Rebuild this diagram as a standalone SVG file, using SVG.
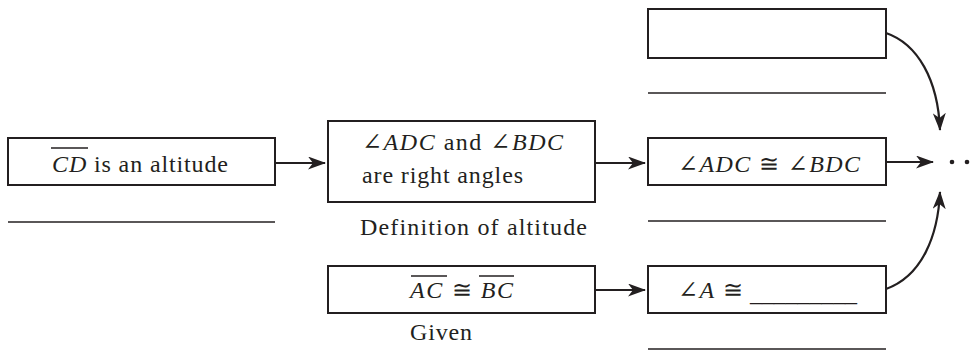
<svg xmlns="http://www.w3.org/2000/svg" width="976" height="351" viewBox="0 0 976 351">
<style>
.box{fill:#fff;stroke:#231f20;stroke-width:2}
.ln{stroke:#231f20;stroke-width:1.5;fill:none}
.conn{stroke:#231f20;stroke-width:2.2;fill:none}
.i{font-style:italic}
</style>
<defs>
<marker id="ah" viewBox="0 0 18 13" refX="17" refY="6.5" markerWidth="18" markerHeight="13" markerUnits="userSpaceOnUse" orient="auto">
<path d="M0,0 L18,6.5 L0,13 L5,6.5 Z" fill="#231f20"/>
</marker>
</defs>
<g id="connectors">
<line class="conn" x1="275" y1="163" x2="325" y2="163" marker-end="url(#ah)"/>
<line class="conn" x1="595" y1="163" x2="645" y2="163" marker-end="url(#ah)"/>
<line class="conn" x1="886" y1="162" x2="933" y2="162" marker-end="url(#ah)"/>
<line class="conn" x1="595" y1="290" x2="645" y2="290" marker-end="url(#ah)"/>
<path class="conn" d="M886,33 C918,44 938,80 940,130" marker-end="url(#ah)"/>
<path class="conn" d="M886,289 C922,276 938,236 940,192" marker-end="url(#ah)"/>
</g>
<g font-family="Liberation Serif, DejaVu Serif, serif" font-size="24" fill="#231f20">
<g id="n1">
<rect class="box" x="8" y="138" width="267" height="47"/>
<line class="ln" x1="51" y1="148" x2="88" y2="148"/>
<text x="52" y="172" textLength="176"><tspan class="i">CD</tspan> is an altitude</text>
<line class="ln" x1="8" y1="222" x2="275" y2="222"/>
</g>
<g id="n2">
<rect class="box" x="328" y="121" width="267" height="81"/>
<text x="362" y="150" textLength="201">∠<tspan class="i">ADC</tspan> and ∠<tspan class="i">BDC</tspan></text>
<text x="362" y="183" textLength="161">are right angles</text>
<text x="360" y="235" textLength="227">Definition of altitude</text>
</g>
<g id="n3">
<rect class="box" x="648" y="9" width="238" height="49"/>
<line class="ln" x1="648" y1="93" x2="886" y2="93"/>
</g>
<g id="n4">
<rect class="box" x="648" y="138" width="238" height="47"/>
<text x="678" y="172" textLength="182">∠<tspan class="i">ADC</tspan> ≅ ∠<tspan class="i">BDC</tspan></text>
<line class="ln" x1="648" y1="221" x2="886" y2="221"/>
</g>
<g id="n5">
<rect class="box" x="328" y="266" width="267" height="47"/>
<text x="410" y="298" textLength="103"><tspan class="i">AC</tspan> ≅ <tspan class="i">BC</tspan></text>
<line class="ln" x1="411" y1="276" x2="447" y2="276"/>
<line class="ln" x1="479" y1="276" x2="514" y2="276"/>
<text x="410" y="340" textLength="62">Given</text>
</g>
<g id="n6">
<rect class="box" x="648" y="266" width="238" height="47"/>
<text x="678" y="298" textLength="65">∠<tspan class="i">A</tspan> ≅</text>
<text x="750" y="301" textLength="107">_________</text>
<line class="ln" x1="648" y1="349" x2="886" y2="349"/>
</g>
</g>
<g id="dots">
<circle cx="952" cy="162" r="2.3" fill="#231f20"/>
<circle cx="967" cy="162" r="2.3" fill="#231f20"/>
</g>
</svg>
